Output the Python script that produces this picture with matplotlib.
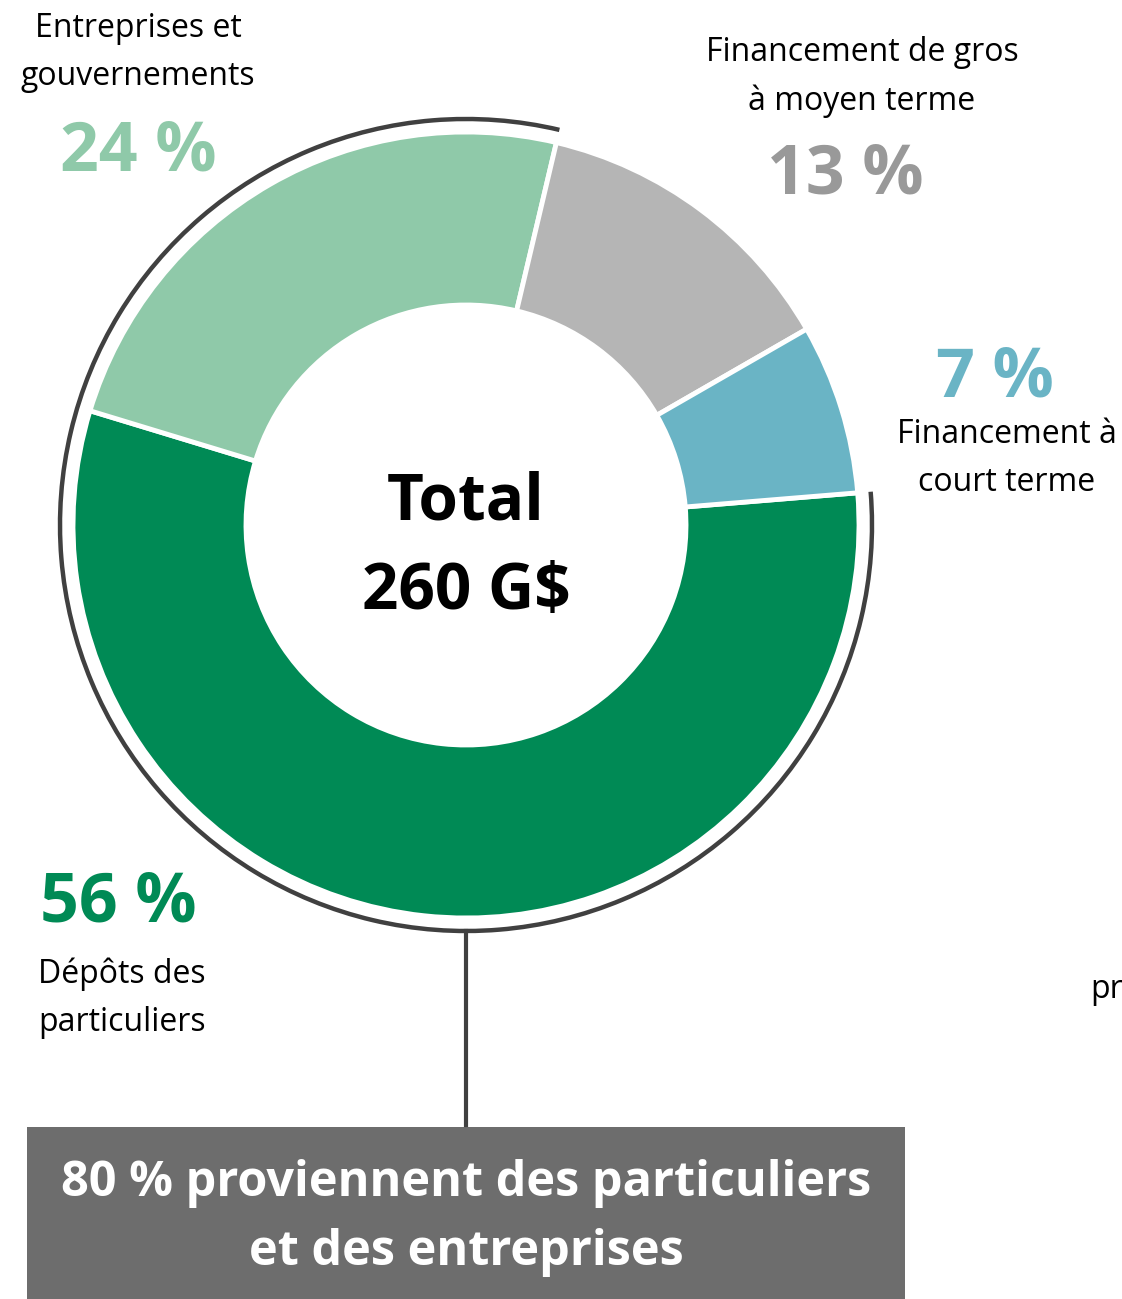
import matplotlib.pyplot as plt
from matplotlib.patches import Arc, Rectangle

plt.rcParams['font.family'] = ['Open Sans', 'DejaVu Sans']

# parts of the total funding, in %
categories = ['Dépôts des\nparticuliers', 'Entreprises et\ngouvernements',
              'Financement de gros\nà moyen terme', 'Financement à\ncourt terme']
shares = [56, 24, 13, 7]
pct_labels = ['56 %', '24 %', '13 %', '7 %']
colors = ['#008a55', '#8fc9a9', '#b5b5b5', '#6ab4c5']
label_colors = ['#008a55', '#8fc9a9', '#999999', '#6ab4c5']
total_label = 'Total\n260 G$'
box_label = '80 % proviennent des particuliers\net des entreprises'

W, H = 1122, 1299
fig = plt.figure(figsize=(W / 100, H / 100), dpi=100)
ax = fig.add_axes([0, 0, 1, 1])

cx, cy = 466, H - 525
wedges, _ = ax.pie(shares, colors=colors, startangle=4.7, counterclock=False,
                   radius=393, center=(cx, cy), frame=True,
                   wedgeprops=dict(width=173, edgecolor='white', linewidth=3.5))
ax.set_xlim(0, W)
ax.set_ylim(0, H)
ax.set_aspect('equal')
ax.axis('off')

# outline around the first two slices (particuliers + entreprises)
t_end = wedges[0].theta2
t_start = wedges[1].theta1
ax.add_patch(Arc((cx, cy), 2 * 406, 2 * 406, theta1=t_start, theta2=t_end + 360,
                 color='#404040', lw=3.2))
ax.plot([cx, cx], [cy - 406, H - 1125], color='#404040', lw=3)
ax.add_patch(Rectangle((27, 0), 878, H - 1127, color='#6d6d6d', lw=0))

ax.text(cx, H - 548, total_label, ha='center', va='center', fontsize=46,
        fontweight='bold', linespacing=1.5)
ax.text(466, H - 1218, box_label, ha='center', va='center', fontsize=35,
        fontweight='bold', color='white', linespacing=1.55)

txt = dict(fontsize=23, linespacing=1.6)
big = dict(fontsize=49, fontweight='bold')
ax.text(138, H - 52, categories[1], ha='center', va='center', **txt)
ax.text(138, H - 152, pct_labels[1], ha='center', va='center', color=label_colors[1], **big)
ax.text(862, H - 77, categories[2], ha='center', va='center', **txt)
ax.text(845, H - 175, pct_labels[2], ha='center', va='center', color=label_colors[2], **big)
ax.text(995, H - 378, pct_labels[3], ha='center', va='center', color=label_colors[3], **big)
ax.text(1007, H - 458, categories[3], ha='center', va='center', **txt)
ax.text(40, H - 903, pct_labels[0], ha='left', va='center', color=label_colors[0], **big)
ax.text(38, H - 998, categories[0], ha='left', va='center', **txt)
ax.text(1090, H - 989, 'pr', ha='left', va='center', **txt)

fig.savefig('out.png', dpi=100)
